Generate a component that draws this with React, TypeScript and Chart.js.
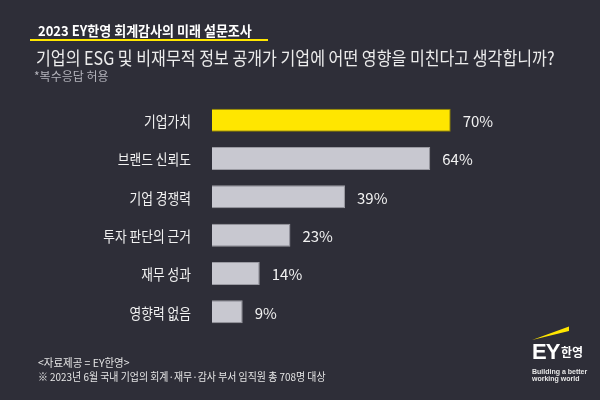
import React, { useEffect, useRef } from "react";
import { Chart, registerables } from "chart.js";

Chart.register(...registerables);

const categories = ["기업가치", "브랜드 신뢰도", "기업 경쟁력", "투자 판단의 근거", "재무 성과", "영향력 없음"];
const values = [70, 64, 39, 23, 14, 9];
const title = "2023 EY한영 회계감사의 미래 설문조사";
const question = "기업의 ESG 및 비재무적 정보 공개가 기업에 어떤 영향을 미친다고 생각합니까?";
const note = "*복수응답 허용";
const source = "<자료제공 = EY한영>";
const footnote = "※ 2023년 6월 국내 기업의 회계·재무·감사 부서 임직원 총 708명 대상";

const BG = "#2e2e38";
const YELLOW = "#ffe600";
const GREY = "#c8c8d0";
const FONT = "'Noto Sans CJK KR', 'Noto Sans', sans-serif";

export default function App() {
  const ref = useRef<HTMLCanvasElement | null>(null);

  useEffect(() => {
    if (!ref.current) return;
    const labelsPlugin = {
      id: "labelsPlugin",
      afterDatasetsDraw(chart: any) {
        const ctx = chart.ctx;
        const meta = chart.getDatasetMeta(0);
        const yScale = chart.scales.y;
        ctx.save();
        ctx.fillStyle = "#f2f2f2";
        ctx.font = `15px ${FONT}`;
        ctx.textBaseline = "middle";
        meta.data.forEach((bar: any, i: number) => {
          ctx.textAlign = "left";
          ctx.fillText(`${values[i]}%`, bar.x + 12, bar.y + 1);
        });
        // category labels, slightly condensed like the reference face
        categories.forEach((c, i) => {
          const y = yScale.getPixelForTick(i);
          ctx.save();
          ctx.translate(191, y + 1);
          ctx.scale(0.85, 1);
          ctx.textAlign = "right";
          ctx.fillText(c, 0, 0);
          ctx.restore();
        });
        ctx.restore();
      },
    };
    const chart = new Chart(ref.current, {
      type: "bar",
      data: {
        labels: categories,
        datasets: [
          {
            data: values,
            backgroundColor: values.map((_, i) => (i === 0 ? YELLOW : GREY)),
            borderColor: values.map((_, i) => (i === 0 ? "#8f8200" : "#9a9aa2")),
            borderWidth: 1,
            barPercentage: 0.6,
            categoryPercentage: 1,
          },
        ],
      },
      options: {
        indexAxis: "y",
        animation: false,
        responsive: false,
        maintainAspectRatio: false,
        devicePixelRatio: 1,
        layout: { padding: { left: 0, right: 47, top: 101, bottom: 69 } },
        plugins: { legend: { display: false }, tooltip: { enabled: false } },
        scales: {
          x: { display: false, min: 0, max: 100 },
          y: {
            grid: { display: false },
            border: { display: false },
            ticks: { display: false },
            afterFit(axis: any) {
              axis.width = 212;
            },
          },
        },
      },
      plugins: [labelsPlugin],
    } as any);
    return () => chart.destroy();
  }, []);

  const abs = (s: React.CSSProperties): React.CSSProperties => ({
    position: "absolute",
    whiteSpace: "nowrap",
    fontFamily: FONT,
    lineHeight: 1,
    transformOrigin: "left center",
    ...s,
  });

  return (
    <div style={{ position: "fixed", left: 0, top: 0, width: 600, height: 400, background: BG, overflow: "hidden" }}>
      <canvas ref={ref} width={600} height={400} style={{ position: "absolute", left: 0, top: 0 }} />
      <div style={abs({ left: 38, top: 23, fontSize: 14, fontWeight: 700, color: "#ffffff", transform: "scaleX(0.93)" })}>{title}</div>
      <div style={{ position: "absolute", left: 30, top: 39, width: 238, height: 2, background: YELLOW }} />
      <div style={abs({ left: 36, top: 48, fontSize: 18, color: "#ececec", transform: "scaleX(0.895)" })}>{question}</div>
      <div style={abs({ left: 34, top: 70, fontSize: 12, color: "#b4b4bc" })}>{note}</div>
      <div style={abs({ left: 38, top: 357, fontSize: 11, color: "#e6e6e6", transform: "scaleX(0.95)" })}>{source}</div>
      <div style={abs({ left: 38, top: 371, fontSize: 11, color: "#e6e6e6", transform: "scaleX(0.9)" })}>{footnote}</div>
      <svg width={600} height={400} style={{ position: "absolute", left: 0, top: 0 }}>
        <polygon points="532,340 569,326.5 569,331" fill={YELLOW} />
      </svg>
      <div style={abs({ left: 532, top: 341, fontSize: 22, fontWeight: 900, color: "#ffffff", fontFamily: "'Liberation Sans', Arial, sans-serif", letterSpacing: -1 })}>EY</div>
      <div style={abs({ left: 561, top: 346, fontSize: 12, fontWeight: 700, color: "#ffffff" })}>한영</div>
      <div style={abs({ left: 532, top: 368, fontSize: 7, fontWeight: 700, color: "#e6e6e6", fontFamily: "'Liberation Sans', Arial, sans-serif" })}>Building a better</div>
      <div style={abs({ left: 532, top: 375, fontSize: 7, fontWeight: 700, color: "#e6e6e6", fontFamily: "'Liberation Sans', Arial, sans-serif" })}>working world</div>
    </div>
  );
}
